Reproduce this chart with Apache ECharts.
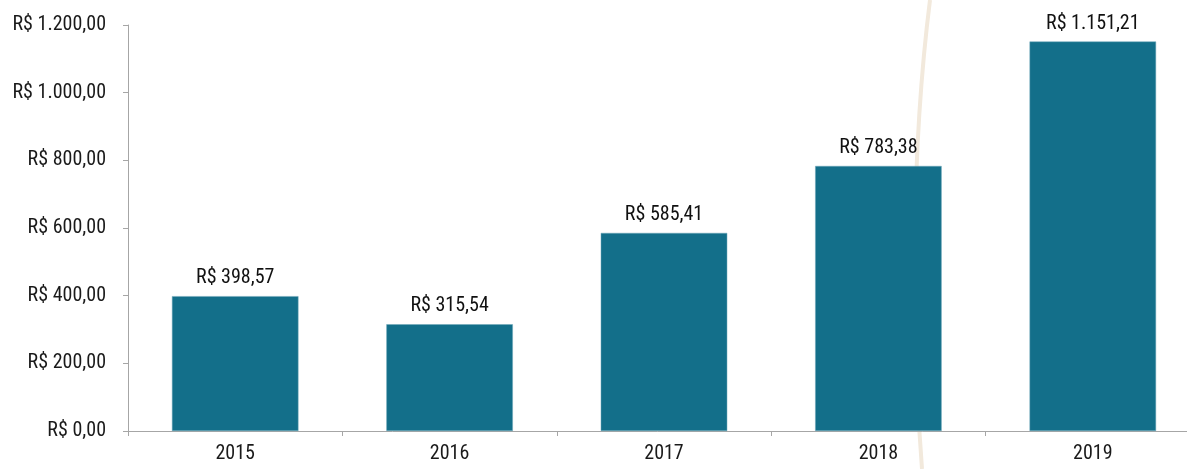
<!DOCTYPE html>
<html><head><meta charset="utf-8">
<script src="https://cdn.jsdelivr.net/npm/echarts@6/dist/echarts.min.js"></script>
<style>html,body{margin:0;padding:0;background:#fff}#c{width:1187px;height:469px}</style>
</head><body><div id="c"></div>
<script>
const categories = ['2015','2016','2017','2018','2019'];
const values = [398.57, 315.54, 585.41, 783.38, 1151.21];
const yTicks = [0, 200, 400, 600, 800, 1000, 1200];

function brl(v){
  const parts = v.toFixed(2).split('.');
  const int = parts[0].replace(/\B(?=(\d{3})+(?!\d))/g, '.');
  return 'R$ ' + int + ',' + parts[1];
}
const FONT = '"Liberation Sans Narrow", "Roboto Condensed", Roboto, sans-serif';
const chart = echarts.init(document.getElementById('c'));
chart.setOption({
  animation: false,
  grid: {left: 128, right: -13, top: 25, bottom: 38, containLabel: false, outerBoundsMode: 'none'},
  xAxis: {
    type: 'category', data: categories,
    axisLine: {lineStyle: {color: '#A6A6A6', width: 1}},
    axisTick: {show: true, length: 5, lineStyle: {color: '#A6A6A6'}},
    axisLabel: {color: '#1a1a1a', fontSize: 20, fontFamily: FONT, margin: 13}
  },
  yAxis: {
    type: 'value', min: 0, max: yTicks[yTicks.length-1], interval: 200,
    axisLine: {show: true, lineStyle: {color: '#A6A6A6', width: 1}},
    axisTick: {show: true, length: 5, lineStyle: {color: '#A6A6A6'}},
    splitLine: {show: false},
    axisLabel: {color: '#1a1a1a', fontSize: 20, fontFamily: FONT, margin: 22, formatter: v => brl(v)}
  },
  graphic: [{
    type: 'bezierCurve', z: -10, silent: true,
    shape: {x1: 930, y1: 0, cpx1: 911, cpy1: 150, cpx2: 911, cpy2: 330, x2: 922, y2: 469},
    style: {stroke: '#F2E9DC', lineWidth: 4, fill: null}
  }],
  series: [{
    type: 'bar', data: values, barWidth: '59%', z: 5,
    itemStyle: {color: '#136F8A', borderColor: '#6FA7B9', borderWidth: 0.5},
    label: {show: true, position: 'top', distance: 8, color: '#111', fontSize: 20, fontFamily: FONT,
      formatter: p => brl(p.value)}
  }]
});
</script></body></html>
